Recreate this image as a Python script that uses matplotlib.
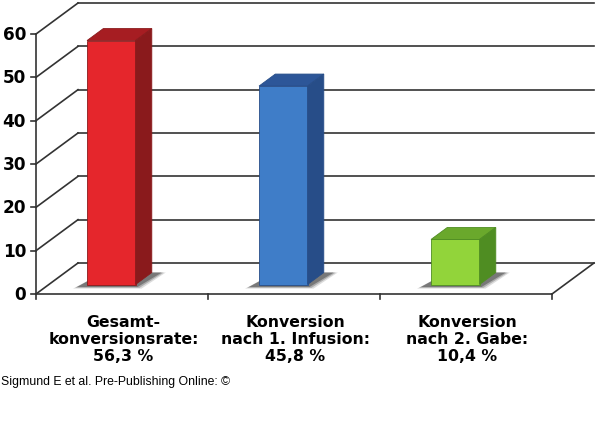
import matplotlib.pyplot as plt
from matplotlib.patches import Polygon

# data
labels = ['Gesamt-\nkonversionsrate:\n56,3 %',
          'Konversion\nnach 1. Infusion:\n45,8 %',
          'Konversion\nnach 2. Gabe:\n10,4 %']
values = [56.3, 45.8, 10.4]
y_ticks = [0, 10, 20, 30, 40, 50, 60]

front_colors = ['#e5262c', '#3f7dc8', '#92d43a']
top_colors = ['#a61d22', '#2d5698', '#6aa82c']
side_colors = ['#8a1a1c', '#274d88', '#4f8d22']

# pixel scale of the pseudo 3d box
PX_CAT = 172.0      # px per category
PX_UNIT = 4.333     # px per value unit
px = 1.0 / PX_CAT   # one pixel in x data units
py = 1.0 / PX_UNIT  # one pixel in y data units

DX, DY = 42 * px, 31 * py        # depth of the whole box
n = len(values)
f_front = 0.306                  # bar front plane, fraction of depth
f_depth = 0.387                  # bar depth, fraction of depth
bar_left = 0.222
bar_w = 0.282
line_c = '#333333'

fig = plt.figure(figsize=(6.0, 4.31), dpi=100)
ax = fig.add_axes([0, 0, 1, 1])
ax.set_xlim(-36 * px, 564 * px)
ax.set_ylim(-136 * py, 295 * py)
ax.axis('off')

# back wall + left wall grid
for v in y_ticks:
    ax.plot([DX, n + DX], [v + DY, v + DY], color=line_c, lw=1.2, zorder=1)
    ax.plot([0, DX], [v, v + DY], color=line_c, lw=1.2, zorder=1)
    ax.plot([-5 * px, 0], [v, v], color=line_c, lw=1.2, zorder=1)
    ax.text(-10 * px, v, str(v), ha='right', va='center',
            fontsize=12.2, fontweight='bold', family='DejaVu Sans')

# axis + floor
ax.plot([0, 0], [0, y_ticks[-1]], color=line_c, lw=1.2, zorder=1)
ax.plot([0, n], [0, 0], color=line_c, lw=1.2, zorder=1)
ax.plot([n, n + DX], [0, DY], color=line_c, lw=1.2, zorder=1)
for c in range(n + 1):
    ax.plot([c, c], [0, -5 * py], color=line_c, lw=1.2, zorder=1)

# bars
for i, val in enumerate(values):
    x0 = i + bar_left + f_front * DX
    y0 = f_front * DY
    bdx, bdy = f_depth * DX, f_depth * DY

    # soft shadow on the floor
    for grow, alpha in [(4, 0.2), (2, 0.35), (0, 0.6)]:
        shadow = [(x0 - (10 + grow) * px, y0 - (2.5 + grow * 0.4) * py),
                  (x0 + bar_w + (2 + grow) * px, y0 - (2.5 + grow * 0.4) * py),
                  (x0 + bar_w + bdx + (10 + grow) * px, y0 + bdy),
                  (x0 + bdx, y0 + bdy)]
        ax.add_patch(Polygon(shadow, closed=True, facecolor='#555555',
                             edgecolor='none', alpha=alpha, zorder=2))

    front = [(x0, y0), (x0 + bar_w, y0), (x0 + bar_w, y0 + val), (x0, y0 + val)]
    top = [(x0, y0 + val), (x0 + bar_w, y0 + val),
           (x0 + bar_w + bdx, y0 + val + bdy), (x0 + bdx, y0 + val + bdy)]
    side = [(x0 + bar_w, y0), (x0 + bar_w + bdx, y0 + bdy),
            (x0 + bar_w + bdx, y0 + val + bdy), (x0 + bar_w, y0 + val)]
    for pts, col in [(front, front_colors[i]), (top, top_colors[i]),
                     (side, side_colors[i])]:
        ax.add_patch(Polygon(pts, closed=True, facecolor=col,
                             edgecolor=side_colors[i], lw=0.6, zorder=3))

    ax.text(x0 + bar_w / 2 + bdx / 2 + 4 * px, -44.5 * py, labels[i],
            ha='center', va='center', multialignment='center',
            fontsize=11.3, fontweight='bold', linespacing=1.2,
            family='DejaVu Sans')

fig.text(0.002, 1 - 382 / 431, 'Sigmund E et al. Pre-Publishing Online: \u00a9',
         ha='left', va='center', fontsize=8.8,
         family=['Liberation Sans', 'DejaVu Sans'])

fig.savefig('out.png', dpi=100)
plt.close(fig)
